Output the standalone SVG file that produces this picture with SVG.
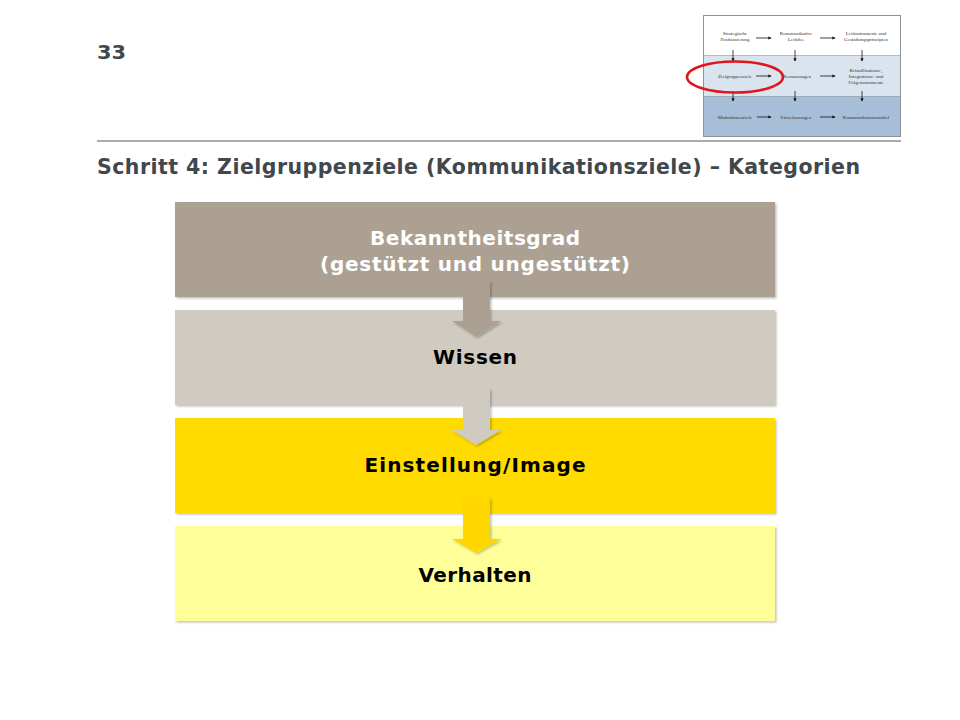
<svg xmlns="http://www.w3.org/2000/svg" width="960" height="720" viewBox="0 0 960 720">
<defs>
<style>
.hdr{font-family:"DejaVu Sans",Verdana,sans-serif;font-weight:bold;fill:#3f484d}
.lbl{font-family:"DejaVu Sans",Verdana,sans-serif;font-weight:bold;font-size:20px;text-anchor:middle}
.th{font-family:"Liberation Serif",serif;font-size:5px;fill:#333;text-anchor:middle}
.ta{stroke:#111;stroke-width:0.8;fill:none;marker-end:url(#ah)}
</style>
<marker id="ah" viewBox="0 0 6 6" refX="5" refY="3" markerWidth="4" markerHeight="4" orient="auto"><path d="M0,0L6,3L0,6z" fill="#111"/></marker>
<filter id="sh" x="-5%" y="-5%" width="110%" height="120%"><feDropShadow dx="1.5" dy="1.5" stdDeviation="1.2" flood-color="#000" flood-opacity="0.25"/></filter>
</defs>
<rect width="960" height="720" fill="#fff"/>
<g id="header">
<text class="hdr" x="97" y="59" font-size="20" textLength="29" lengthAdjust="spacingAndGlyphs">33</text>
<line x1="97" y1="141" x2="901" y2="141" stroke="#505a5f" stroke-width="1.2"/>
<text class="hdr" x="97" y="174" font-size="20.5" textLength="763" lengthAdjust="spacing">Schritt 4: Zielgruppenziele (Kommunikationsziele)  – Kategorien</text>
</g>
<g id="thumbnail">
<rect x="703.5" y="15.5" width="197" height="40" fill="#fff"/>
<rect x="703.5" y="55.5" width="197" height="41" fill="#dae4ef"/>
<rect x="703.5" y="96.5" width="197" height="40" fill="#a6bed8"/>
<line x1="703.5" y1="55.5" x2="900.5" y2="55.5" stroke="#8a97a5" stroke-width="0.6"/>
<line x1="703.5" y1="96.5" x2="900.5" y2="96.5" stroke="#7f8fa0" stroke-width="0.6"/>
<rect x="703.5" y="15.5" width="197" height="121" fill="none" stroke="#8d9399" stroke-width="1"/>
<text class="th" x="735" y="35">Strategische</text>
<text class="th" x="735" y="41">Positionierung</text>
<text class="th" x="796" y="35">Kommunikative</text>
<text class="th" x="796" y="41">Leitidee</text>
<text class="th" x="866" y="35">Leitinstrumente und</text>
<text class="th" x="866" y="41">Gestaltungsprinzipien</text>
<line class="ta" x1="756" y1="38" x2="771" y2="38"/>
<line class="ta" x1="820" y1="38" x2="835" y2="38"/>
<line class="ta" x1="733" y1="50" x2="733" y2="61"/>
<line class="ta" x1="795" y1="50" x2="795" y2="61"/>
<line class="ta" x1="862" y1="50" x2="862" y2="61"/>
<text class="th" x="735" y="78">Zielgruppenziele</text>
<text class="th" x="797" y="78">Kernaussagen</text>
<text class="th" x="866" y="72">Kristallisations-,</text>
<text class="th" x="866" y="78">Integrations- und</text>
<text class="th" x="866" y="84">Folgeinstrumente</text>
<line class="ta" x1="756" y1="76" x2="771" y2="76"/>
<line class="ta" x1="820" y1="76" x2="835" y2="76"/>
<line class="ta" x1="733" y1="91" x2="733" y2="101"/>
<line class="ta" x1="795" y1="91" x2="795" y2="101"/>
<line class="ta" x1="862" y1="91" x2="862" y2="101"/>
<text class="th" x="735" y="119">Maßnahmenziele</text>
<text class="th" x="796" y="119">Einzelaussagen</text>
<text class="th" x="866" y="119">Kommunikationsmittel</text>
<line class="ta" x1="757" y1="117" x2="771" y2="117"/>
<line class="ta" x1="820" y1="117" x2="835" y2="117"/>
<ellipse cx="735" cy="77" rx="48" ry="15.5" fill="none" stroke="#e0151b" stroke-width="2.5"/>
</g>
<g id="node-bekanntheitsgrad">
<rect x="175" y="202" width="600" height="95" fill="#aca092" filter="url(#sh)"/>
<text class="lbl" x="475" y="245" fill="#fff" textLength="210" lengthAdjust="spacing">Bekanntheitsgrad</text>
<text class="lbl" x="475" y="271" fill="#fff" textLength="310" lengthAdjust="spacing">(gestützt und ungestützt)</text>
</g>
<g id="node-wissen">
<rect x="175" y="310" width="600" height="95" fill="#d0cbc1" filter="url(#sh)"/>
<text class="lbl" x="475" y="364" fill="#000" textLength="84" lengthAdjust="spacing">Wissen</text>
</g>
<g id="node-einstellung">
<rect x="175" y="418" width="600" height="95" fill="#ffdb00" filter="url(#sh)"/>
<text class="lbl" x="475" y="472" fill="#000" textLength="221" lengthAdjust="spacing">Einstellung/Image</text>
</g>
<g id="node-verhalten">
<rect x="175" y="526" width="600" height="95" fill="#ffff99" filter="url(#sh)"/>
<text class="lbl" x="475" y="582" fill="#000" textLength="113" lengthAdjust="spacing">Verhalten</text>
</g>
<g id="connectors">
<path d="M463,281H490V321H501L476,337L452,321H463Z" fill="#aca092" filter="url(#sh)"/>
<path d="M463,389H490V430H501L476,445L452,430H463Z" fill="#d0cbc1" filter="url(#sh)"/>
<path d="M463,498H490V539H501L476,553L452,539H463Z" fill="#ffd700" filter="url(#sh)"/>
</g>
</svg>
